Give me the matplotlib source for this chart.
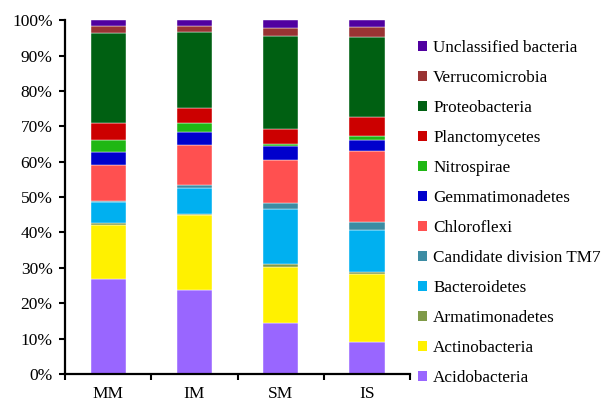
import numpy as np
import matplotlib.pyplot as plt
from matplotlib.patches import Patch
from matplotlib.ticker import FuncFormatter

plt.rcParams['font.family'] = ['Liberation Serif', 'DejaVu Serif']

sites = ['MM', 'IM', 'SM', 'IS']

# relative abundance (%) per phylum, bottom to top
taxa = ['Acidobacteria', 'Actinobacteria', 'Armatimonadetes', 'Bacteroidetes',
        'Candidate division TM7', 'Chloroflexi', 'Gemmatimonadetes', 'Nitrospirae',
        'Planctomycetes', 'Proteobacteria', 'Verrucomicrobia', 'Unclassified bacteria']
acido = [26.8, 23.7, 14.5, 9.1]
actino = [15.3, 20.9, 15.6, 19.1]
armati = [0.5, 0.4, 1.1, 0.7]
bactero = [6.0, 7.3, 15.3, 11.7]
tm7 = [0.3, 0.7, 1.9, 2.3]
chloro = [10.2, 11.3, 12.1, 20.2]
gemma = [3.5, 3.8, 3.8, 3.0]
nitro = [3.5, 2.5, 0.6, 1.1]
plancto = [4.7, 4.0, 4.2, 5.5]
proteo = [25.7, 21.5, 26.4, 22.6]
verruco = [1.9, 1.7, 2.4, 2.7]
unclass = [1.6, 1.6, 2.1, 2.0]
values = [acido, actino, armati, bactero, tm7, chloro, gemma, nitro,
          plancto, proteo, verruco, unclass]

colors = ['#9966FF', '#FFF100', '#7F9A48', '#00B0F0', '#3C8CA3', '#FF5050',
          '#0000CC', '#1FB714', '#CC0000', '#006012', '#993333', '#5000A0']

data = np.array(values, dtype=float)
data = data / data.sum(axis=0) * 100  # normalise to 100 %

fig = plt.figure(figsize=(6.03, 4.03), dpi=100)
ax = fig.add_axes([0.108, 0.072, 0.572, 0.878])

x = np.arange(len(sites))
bottom = np.zeros(len(sites))
for row, c in zip(data, colors):
    ax.bar(x, row, 0.41, bottom=bottom, color=c, edgecolor='white',
           linewidth=0.3)
    bottom += row

ax.set_xlim(-0.5, 3.5)
ax.set_ylim(0, 100)
ax.set_yticks(np.arange(0, 101, 10))
ax.yaxis.set_major_formatter(FuncFormatter(lambda v, p: '%d%%' % v))
ax.set_xticks(x)
ax.set_xticklabels(sites)
ax.set_xticks(np.arange(-0.5, 3.6, 1), minor=True)
ax.tick_params(axis='x', which='major', length=0, pad=9, labelsize=12.5)
ax.tick_params(axis='x', which='minor', length=4, width=1.5, direction='out')
ax.tick_params(axis='y', length=4, width=1.5, direction='out', labelsize=12.5, pad=5)
for s in ['top', 'right']:
    ax.spines[s].set_visible(False)
for s in ['left', 'bottom']:
    ax.spines[s].set_linewidth(1.6)

handles = [Patch(facecolor=c, label=t) for t, c in zip(taxa, colors)]
ax.legend(handles=handles[::-1], loc='center left', bbox_to_anchor=(1.003, 0.455),
          frameon=False, fontsize=12.3, handlelength=0.55, handleheight=0.55,
          handletextpad=0.35, labelspacing=0.82, borderaxespad=0)

fig.savefig('out.png', dpi=100)
